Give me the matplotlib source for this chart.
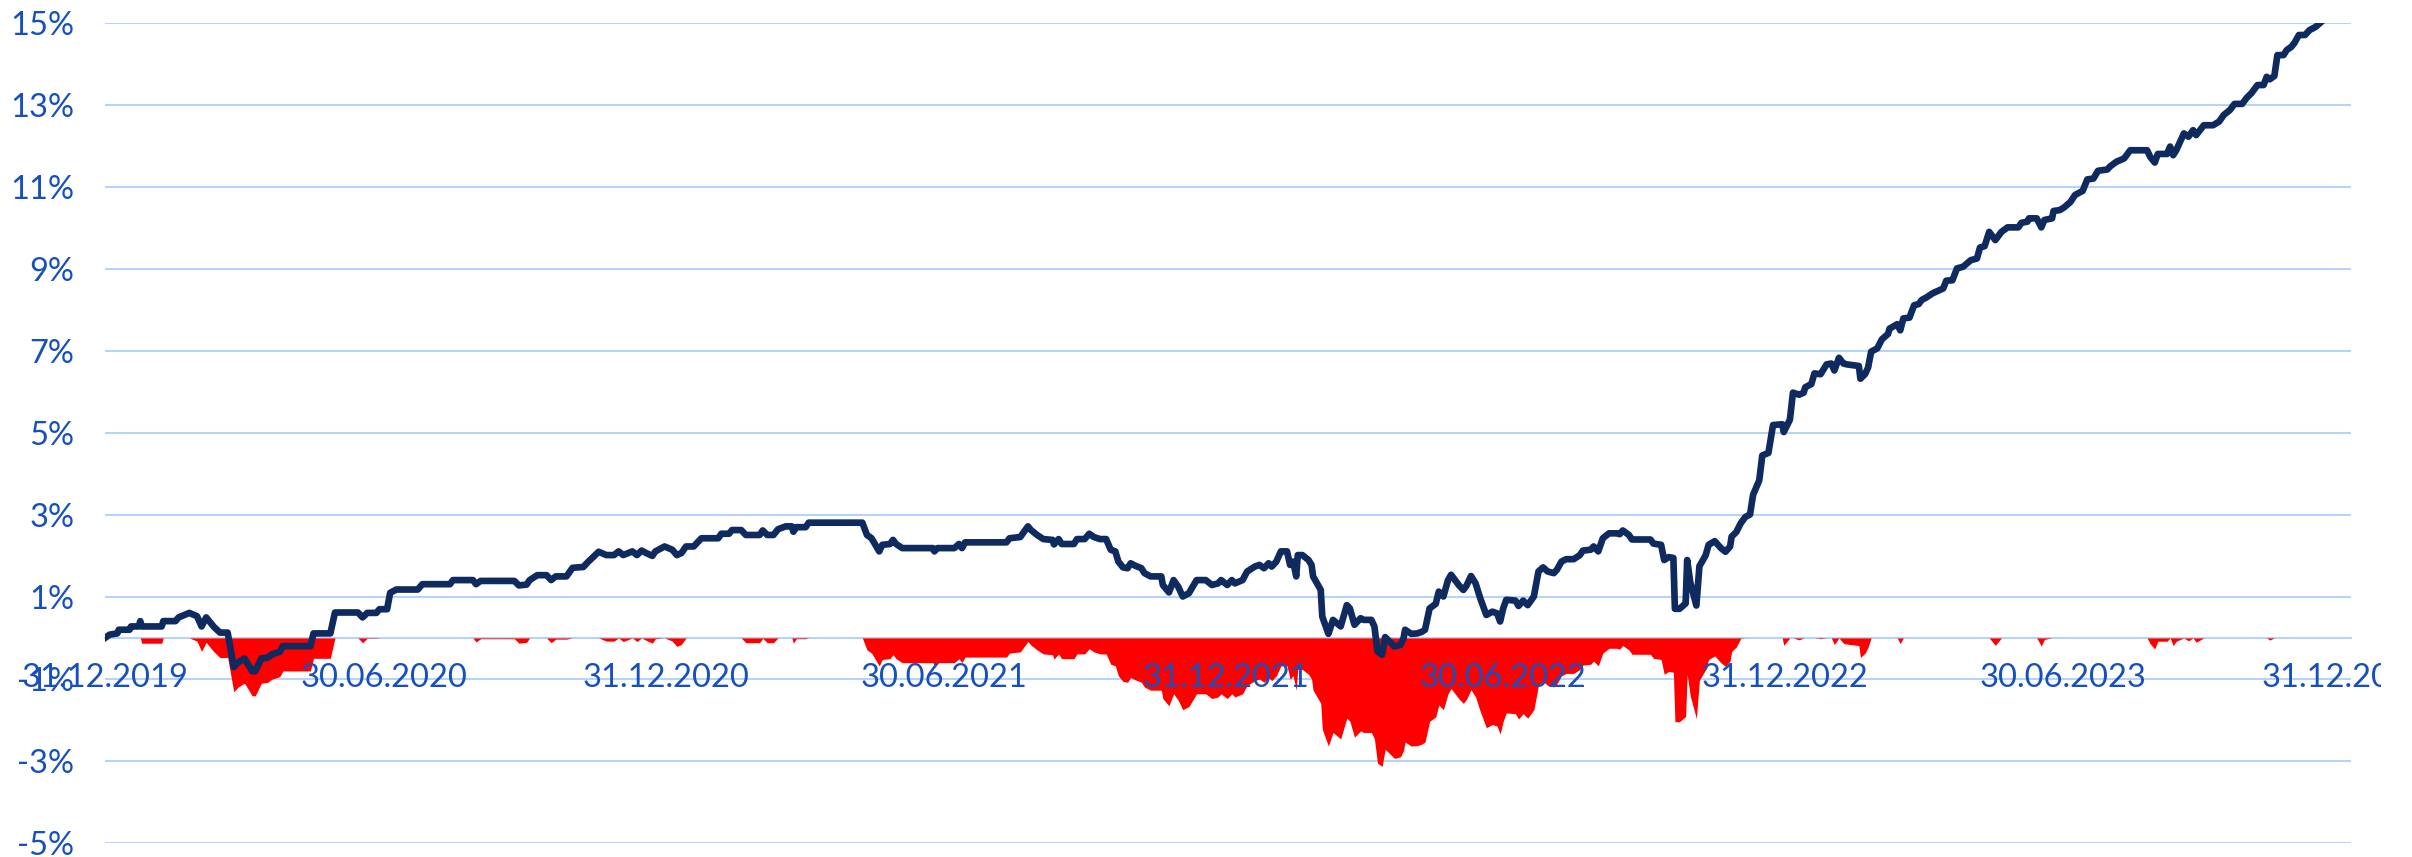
import numpy as np
import pandas as pd
import matplotlib
matplotlib.use('Agg')
import matplotlib.pyplot as plt
from matplotlib.transforms import Bbox, TransformedBbox

plt.rcParams['font.family'] = ['Lato', 'DejaVu Sans']

start = pd.Timestamp('2019-12-31')

# days after 31.12.2019 and cumulative performance in %
days = [0, 3, 8, 9, 16, 17, 22, 23, 24, 37, 38, 46, 48, 55, 60, 63, 66, 71, 75, 80,
        84, 87, 91, 96, 98, 102, 106, 109, 114, 116, 134, 136, 147, 150, 165, 168, 171, 177, 179, 184,
        186, 190, 204, 207, 225, 227, 240, 242, 245, 267, 270, 275, 277, 282, 288, 291, 294, 301, 305, 312,
        315, 322,
        327, 332, 335, 338, 344, 347, 350, 353, 357, 359, 365, 370, 373, 376, 379, 384, 387, 389, 400, 402,
        407, 409, 415, 418, 427, 429, 432, 436, 439, 444, 448, 449, 451, 457, 459, 494, 497, 500, 505, 507,
        512, 514, 516, 520, 540, 541, 543, 554, 557, 559, 561, 588, 590, 597, 602, 604, 608, 612, 618, 619,
        622, 624, 632, 634, 639, 642, 645,
        649, 653, 656, 659, 661, 664, 667, 669, 672, 676, 678, 682, 689, 690, 694, 697, 700, 703, 707, 712,
        718, 722, 726, 728, 732, 735, 737, 742, 745, 750, 753, 756, 759, 761, 764, 767, 771, 773, 775, 777,
        778, 781, 785, 787, 788, 790, 793, 794, 798, 801, 806, 810, 812, 815, 819, 821, 826, 828, 830, 833,
        835, 839, 841, 845, 847, 848, 852, 856, 859, 861, 864, 868, 870, 873, 876, 878, 883, 886, 888, 891,
        894, 897, 901, 905, 908, 910, 912, 914, 920, 922, 925, 928, 932, 935, 938, 941, 945, 947, 950, 953,
        958, 962, 964, 969, 971, 974, 977, 981, 986,
        988, 990, 994, 996, 1008, 1010, 1015, 1017, 1020, 1023, 1024, 1027, 1031, 1032, 1034, 1038, 1040, 1044, 1046, 1050,
        1054, 1057, 1060, 1061, 1064, 1067, 1070, 1073, 1075, 1079, 1081, 1085, 1088, 1094, 1095, 1099, 1101, 1105, 1108, 1109,
        1113, 1115, 1119, 1123, 1126, 1128, 1131, 1134, 1136, 1144, 1145, 1148, 1150, 1152, 1156, 1159, 1163, 1164, 1169,
        1171, 1173, 1177, 1180, 1183, 1185, 1188, 1192, 1199, 1201, 1205, 1208, 1212, 1217, 1221, 1223, 1226, 1229, 1233, 1237,
        1241, 1248, 1250, 1254, 1255, 1260, 1263, 1265, 1270, 1271, 1275, 1278, 1282, 1285, 1290, 1293, 1297, 1300, 1306, 1308,
        1312, 1317, 1321, 1332, 1334, 1337, 1339, 1345, 1347, 1349, 1351, 1356, 1359, 1362, 1364, 1369, 1375, 1379, 1382, 1386,
        1389, 1394, 1397, 1400, 1404, 1408, 1410, 1412, 1415, 1417, 1421, 1423, 1426, 1428, 1431, 1435, 1438, 1442, 1445]

perf = [0.0, 0.08, 0.11, 0.2, 0.2, 0.28, 0.28, 0.41, 0.28, 0.28, 0.41, 0.41, 0.5, 0.61, 0.53, 0.28, 0.5, 0.27, 0.13, 0.13,
        -0.71, -0.59, -0.5, -0.81, -0.81, -0.5, -0.48, -0.4, -0.34, -0.2, -0.2, 0.11, 0.11, 0.62, 0.62, 0.5, 0.61, 0.61, 0.7, 0.7,
        1.1, 1.18, 1.18, 1.31, 1.31, 1.41, 1.41, 1.31, 1.39, 1.39, 1.28, 1.3, 1.41, 1.53, 1.53, 1.41, 1.5, 1.5, 1.71, 1.73,
        1.85, 2.1,
        2.02, 2.02, 2.11, 2.02, 2.11, 2.02, 2.13, 2.07, 2.0, 2.11, 2.23, 2.15, 2.02, 2.07, 2.23, 2.23, 2.35, 2.43, 2.43, 2.54,
        2.54, 2.63, 2.63, 2.51, 2.51, 2.62, 2.51, 2.51, 2.65, 2.72, 2.72, 2.59, 2.7, 2.7, 2.81, 2.81, 2.51, 2.43, 2.11, 2.27,
        2.29, 2.39, 2.29, 2.19, 2.19, 2.11, 2.19, 2.19, 2.29, 2.19, 2.33, 2.33, 2.43, 2.46, 2.72, 2.63, 2.51, 2.41, 2.39, 2.28,
        2.41, 2.29, 2.29, 2.41, 2.41, 2.54, 2.46,
        2.41, 2.41, 2.15, 2.11, 1.86, 1.72, 1.7, 1.82, 1.76, 1.7, 1.58, 1.5, 1.5, 1.29, 1.11, 1.41, 1.25, 1.01, 1.09, 1.41,
        1.41, 1.29, 1.33, 1.41, 1.29, 1.41, 1.33, 1.41, 1.62, 1.74, 1.78, 1.7, 1.82, 1.74, 1.86, 2.11, 2.11, 1.78, 1.86, 1.5,
        2.02, 2.02, 1.9, 1.78, 1.5, 1.37, 1.17, 0.52, 0.1, 0.44, 0.28, 0.8, 0.72, 0.32, 0.48, 0.44, 0.44, 0.28, -0.33, -0.41,
        0.02, -0.13, -0.21, -0.17, -0.01, 0.2, 0.1, 0.11, 0.15, 0.2, 0.72, 0.83, 1.13, 1.01, 1.41, 1.54, 1.29, 1.17, 1.27, 1.51,
        1.33, 0.97, 0.56, 0.64, 0.6, 0.4, 0.72, 0.93, 0.91, 0.78, 0.91, 0.8, 1.01, 1.62, 1.72, 1.62, 1.58, 1.66, 1.86, 1.92,
        1.92, 2.02, 2.13, 2.15, 2.23, 2.11, 2.43, 2.55, 2.55,
        2.53, 2.62, 2.51, 2.4, 2.4, 2.3, 2.27, 1.9, 1.97, 1.95, 0.71, 0.71, 0.84, 1.9, 1.36, 0.79, 1.75, 2.01, 2.27, 2.36,
        2.19, 2.1, 2.23, 2.47, 2.58, 2.8, 2.95, 3.01, 3.49, 3.84, 4.45, 4.51, 5.19, 5.21, 5.02, 5.32, 5.98, 5.93, 5.98, 6.11,
        6.19, 6.45, 6.43, 6.67, 6.69, 6.52, 6.83, 6.69, 6.67, 6.63, 6.32, 6.43, 6.59, 6.98, 7.06, 7.28, 7.41, 7.54, 7.65,
        7.5, 7.79, 7.81, 8.11, 8.14, 8.24, 8.3, 8.4, 8.52, 8.71, 8.72, 9.01, 9.05, 9.21, 9.25, 9.52, 9.55, 9.9, 9.7, 9.9,
        10.01, 10.01, 10.12, 10.15, 10.23, 10.23, 10.01, 10.19, 10.23, 10.41, 10.43, 10.5, 10.63, 10.8, 10.9, 11.18, 11.2, 11.39, 11.42, 11.5,
        11.61, 11.69, 11.89, 11.89, 11.73, 11.59, 11.8, 11.8, 11.98, 11.77, 11.89, 12.3, 12.22, 12.38, 12.26, 12.5, 12.5, 12.59, 12.75, 12.87,
        13.02, 13.02, 13.17, 13.28, 13.48, 13.48, 13.68, 13.62, 13.7, 14.21, 14.21, 14.33, 14.41, 14.5, 14.7, 14.7, 14.82, 14.9, 15.0]

x_labels = ['31.12.2019', '30.06.2020', '31.12.2020', '30.06.2021', '31.12.2021',
            '30.06.2022', '31.12.2022', '30.06.2023', '31.12.2023']
y_ticks = [-5, -3, -1, 1, 3, 5, 7, 9, 11, 13, 15]

navy = '#0E2A5F'
red = '#FF0000'
grid_col = '#B6D3FA'
text_col = '#1550BE'

dates = start + pd.to_timedelta(days, unit='D')
perf = np.array(perf)
peak = np.maximum.accumulate(perf)
drawdown = ((1 + perf / 100) / (1 + peak / 100) - 1) * 100

W, H = 2412, 857
fig = plt.figure(figsize=(W / 100, H / 100), dpi=100)
ax = fig.add_axes([105 / W, 14 / H, 2246 / W, 820.3 / H])

ax.fill_between(dates, drawdown, 0, color=red, lw=0, zorder=2)
ax.plot(dates, perf, color=navy, lw=4.8, zorder=3, solid_joinstyle='round')

ax.set_xlim(start, start + pd.Timedelta(days=1465))
ax.set_ylim(-5, 15)

ax.set_yticks(y_ticks)
ax.set_yticklabels([f'{v}%' for v in y_ticks])
ax.grid(axis='y', color=grid_col, lw=1.5)
ax.set_axisbelow(True)

tick_dates = pd.to_datetime(x_labels, format='%d.%m.%Y')
ax.set_xticks(tick_dates)
ax.set_xticklabels(x_labels)
ax.xaxis.set_zorder(4)

for s in ['top', 'right', 'left']:
    ax.spines[s].set_visible(False)
ax.spines['bottom'].set_position(('data', 0))
ax.spines['bottom'].set_color(grid_col)
ax.spines['bottom'].set_linewidth(1.5)
ax.spines['bottom'].set_zorder(1)

ax.tick_params(axis='y', length=0, pad=22, labelsize=23.5, labelcolor=text_col)
ax.tick_params(axis='x', length=0, pad=18, labelsize=23.5, labelcolor=text_col)

clip = TransformedBbox(Bbox([[0, 0], [2381 / W, 1]]), fig.transFigure)
for lbl in ax.get_xticklabels():
    lbl.set_clip_on(True)
    lbl.set_clip_box(clip)

fig.savefig('out.png', dpi=100)
